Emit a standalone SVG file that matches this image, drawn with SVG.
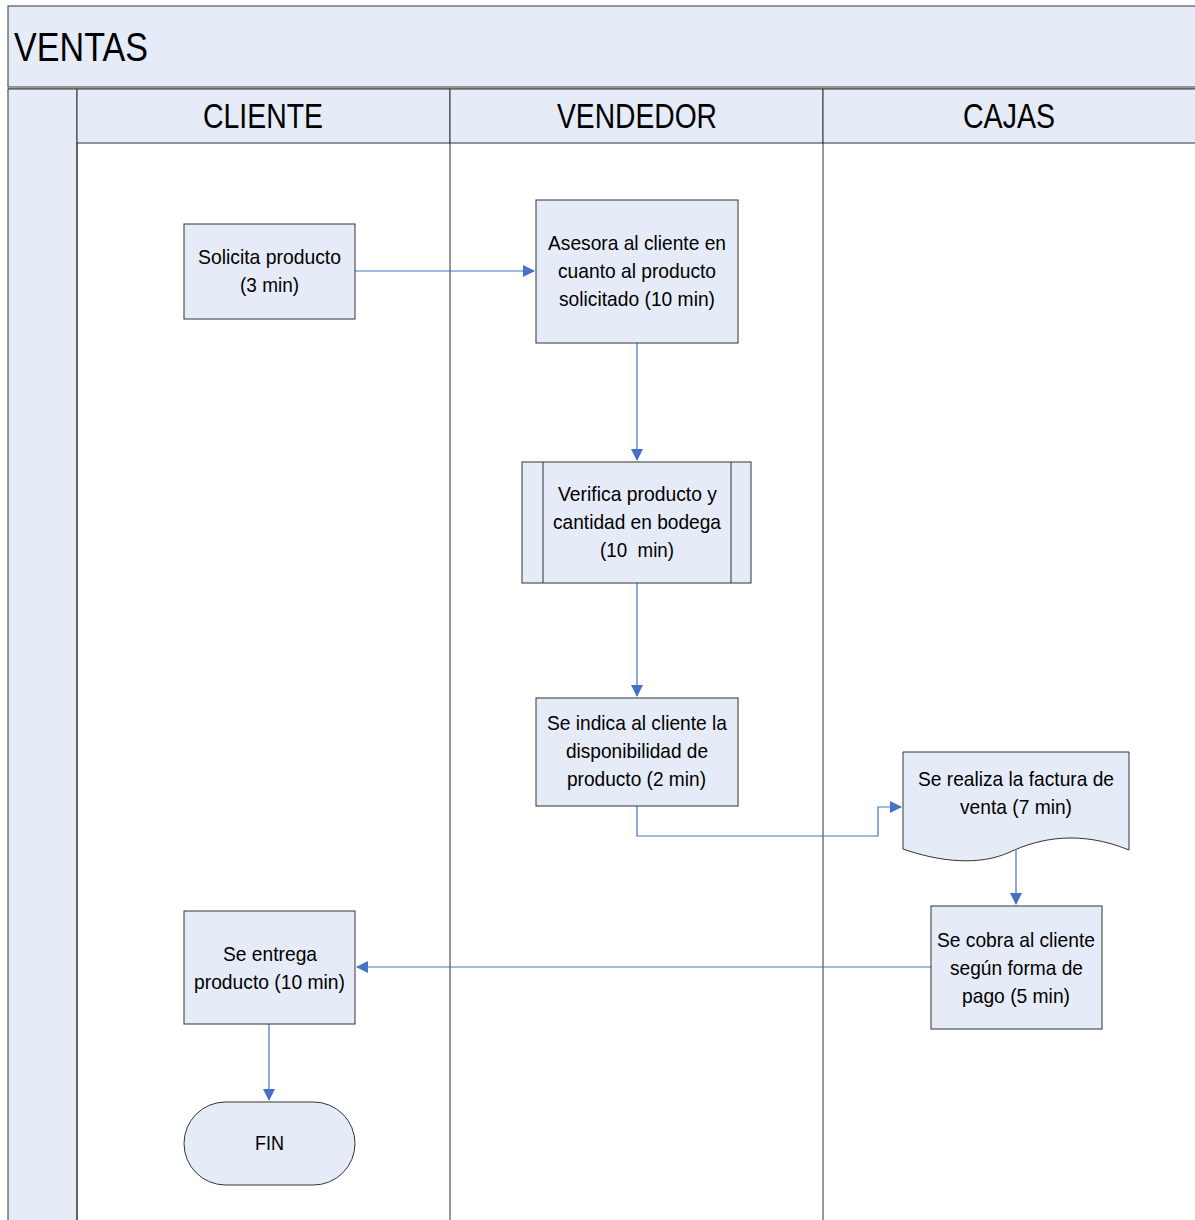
<svg xmlns="http://www.w3.org/2000/svg" width="1195" height="1220" viewBox="0 0 1195 1220">
<defs>
<marker id="arr" markerWidth="12" markerHeight="12" refX="11" refY="6" orient="auto" markerUnits="userSpaceOnUse">
<path d="M0,0 L12,6 L0,12 Z" fill="#4472C4"/>
</marker>
<style>
.lane{fill:#E6ECF7;stroke:#333;stroke-width:1}
.box{fill:#E6ECF7;stroke:#333;stroke-width:1}
.t{font-family:"Liberation Sans Narrow","Arial Narrow","Liberation Sans",sans-serif;font-size:21px;fill:#000;text-anchor:middle}
.h{font-family:"Liberation Sans Narrow","Arial Narrow","Liberation Sans",sans-serif;font-size:35px;fill:#000;text-anchor:middle}
.c{fill:none;stroke:#4472C4;stroke-width:1.2}
</style>
</defs>
<rect width="1195" height="1220" fill="#fff"/>
<g id="pool">
<rect x="8" y="6" width="1200" height="81" class="lane"/>
<text x="14" y="61" class="h" style="text-anchor:start;font-size:41px" textLength="134" lengthAdjust="spacingAndGlyphs">VENTAS</text>
<line x1="8" y1="89" x2="1195" y2="89" stroke="#333"/>
<rect x="8" y="89" width="69" height="1140" fill="#E6ECF7" stroke="#333"/>
<rect x="77" y="89" width="373" height="54" class="lane"/>
<rect x="450" y="89" width="373" height="54" class="lane"/>
<rect x="823" y="89" width="380" height="54" class="lane"/>
<line x1="77" y1="143" x2="77" y2="1220" stroke="#333"/>
<line x1="450" y1="143" x2="450" y2="1220" stroke="#333"/>
<line x1="823" y1="143" x2="823" y2="1220" stroke="#333"/>
<text x="263" y="128" class="h" textLength="120" lengthAdjust="spacingAndGlyphs">CLIENTE</text>
<text x="637" y="128" class="h" textLength="160" lengthAdjust="spacingAndGlyphs">VENDEDOR</text>
<text x="1009" y="128" class="h" textLength="92" lengthAdjust="spacingAndGlyphs">CAJAS</text>
</g>
<g id="connectors">
<path class="c" d="M355,271 H534" marker-end="url(#arr)"/>
<path class="c" d="M637,343 V460" marker-end="url(#arr)"/>
<path class="c" d="M637,583 V696" marker-end="url(#arr)"/>
<path class="c" d="M637,806 V836 H878 V807 H901" marker-end="url(#arr)"/>
<path class="c" d="M1016,850 V904" marker-end="url(#arr)"/>
<path class="c" d="M931,967 H357" marker-end="url(#arr)"/>
<path class="c" d="M269,1024 V1100" marker-end="url(#arr)"/>
</g>
<g id="n1">
<rect x="184" y="224" width="171" height="95" class="box"/>
<text x="269.5" y="264" class="t" textLength="143" lengthAdjust="spacingAndGlyphs">Solicita producto</text>
<text x="269.5" y="292" class="t" textLength="59" lengthAdjust="spacingAndGlyphs">(3 min)</text>
</g>
<g id="n2">
<rect x="536" y="200" width="202" height="143" class="box"/>
<text x="637" y="250" class="t" textLength="178" lengthAdjust="spacingAndGlyphs">Asesora al cliente en</text>
<text x="637" y="278" class="t" textLength="158" lengthAdjust="spacingAndGlyphs">cuanto al producto</text>
<text x="637" y="306" class="t" textLength="156" lengthAdjust="spacingAndGlyphs">solicitado (10 min)</text>
</g>
<g id="n3">
<rect x="522" y="462" width="229" height="121" class="box"/>
<line x1="543" y1="462" x2="543" y2="583" stroke="#333"/>
<line x1="731" y1="462" x2="731" y2="583" stroke="#333"/>
<text x="637.5" y="501" class="t" textLength="159" lengthAdjust="spacingAndGlyphs">Verifica producto y</text>
<text x="637" y="529" class="t" textLength="168" lengthAdjust="spacingAndGlyphs">cantidad en bodega</text>
<text x="637" y="557" class="t" xml:space="preserve" textLength="74" lengthAdjust="spacingAndGlyphs">(10  min)</text>
</g>
<g id="n4">
<rect x="536" y="698" width="202" height="108" class="box"/>
<text x="637" y="730" class="t" textLength="180" lengthAdjust="spacingAndGlyphs">Se indica al cliente la</text>
<text x="637" y="758" class="t" textLength="142" lengthAdjust="spacingAndGlyphs">disponibilidad de</text>
<text x="636.5" y="786" class="t" textLength="139" lengthAdjust="spacingAndGlyphs">producto (2 min)</text>
</g>
<g id="n5">
<path class="box" d="M903,752 H1129 V850 C1080,830 1040,838 1010,852 C980,866 940,862 903,849 Z"/>
<text x="1016" y="786" class="t" textLength="196" lengthAdjust="spacingAndGlyphs">Se realiza la factura de</text>
<text x="1016" y="814" class="t" textLength="112" lengthAdjust="spacingAndGlyphs">venta (7 min)</text>
</g>
<g id="n6">
<rect x="931" y="906" width="171" height="123" class="box"/>
<text x="1016" y="947" class="t" textLength="158" lengthAdjust="spacingAndGlyphs">Se cobra al cliente</text>
<text x="1016.5" y="975" class="t" textLength="133" lengthAdjust="spacingAndGlyphs">según forma de</text>
<text x="1016" y="1003" class="t" textLength="108" lengthAdjust="spacingAndGlyphs">pago (5 min)</text>
</g>
<g id="n7">
<rect x="184" y="911" width="171" height="113" class="box"/>
<text x="270" y="961" class="t" textLength="94" lengthAdjust="spacingAndGlyphs">Se entrega</text>
<text x="269.5" y="989" class="t" textLength="151" lengthAdjust="spacingAndGlyphs">producto (10 min)</text>
</g>
<g id="n8">
<rect x="184" y="1102" width="171" height="83" rx="41.5" ry="41.5" class="box"/>
<text x="269.5" y="1150" class="t" textLength="29" lengthAdjust="spacingAndGlyphs">FIN</text>
</g>
</svg>
